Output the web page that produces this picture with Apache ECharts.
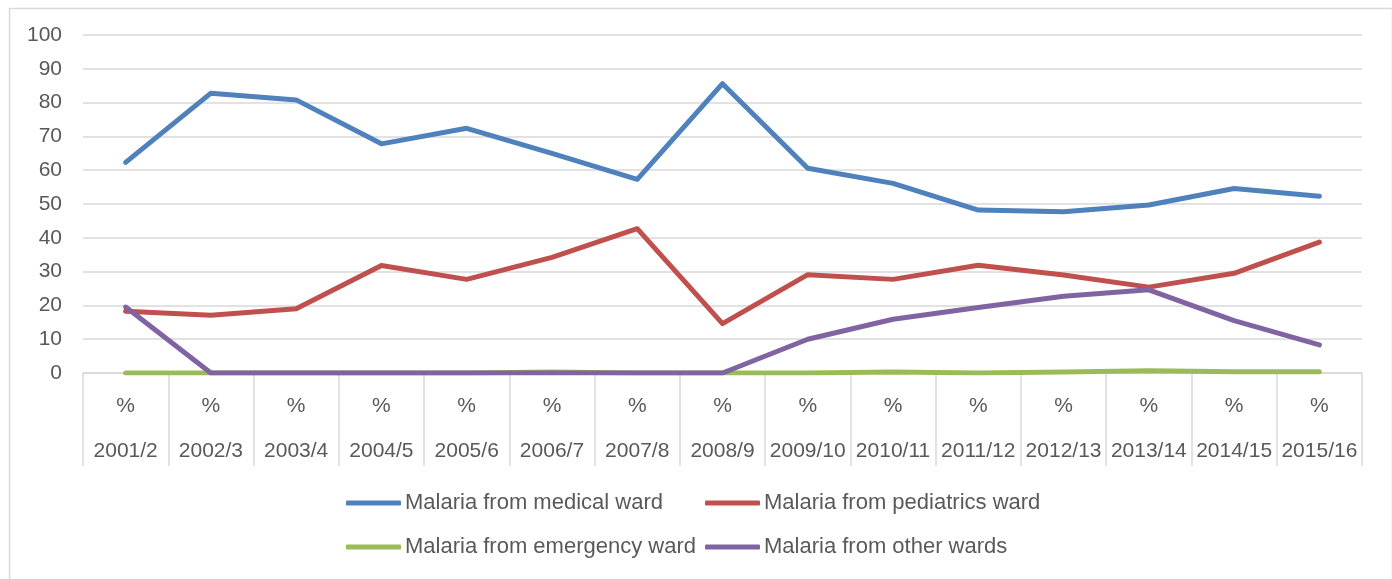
<!DOCTYPE html>
<html>
<head>
<meta charset="utf-8">
<script src="https://cdn.jsdelivr.net/npm/echarts@6/dist/echarts.min.js"></script>
<style>
html,body{margin:0;padding:0;background:#fff;}
#chart{width:1392px;height:579px;}
</style>
</head>
<body>
<div id="chart"></div>
<script>
const categories = ['2001/2','2002/3','2003/4','2004/5','2005/6','2006/7','2007/8','2008/9','2009/10','2010/11','2011/12','2012/13','2013/14','2014/15','2015/16'];
const medical    = [62.3, 82.8, 80.8, 67.8, 72.4, 65.0, 57.3, 85.6, 60.6, 56.1, 48.2, 47.7, 49.7, 54.6, 52.3];
const pediatrics = [18.3, 17.1, 19.0, 31.8, 27.7, 34.2, 42.7, 14.6, 29.1, 27.7, 31.9, 29.0, 25.4, 29.5, 38.7];
const emergency  = [0, 0, 0, 0, 0, 0.3, 0, 0, 0, 0.3, 0, 0.3, 0.7, 0.4, 0.4];
const other      = [19.5, 0, 0, 0, 0, 0, 0, 0, 10.0, 15.9, 19.4, 22.7, 24.6, 15.5, 8.3];
const seriesNames = ['Malaria from medical ward','Malaria from pediatrics ward','Malaria from emergency ward','Malaria from other wards'];
const colors = ['#4F81BD','#C0504D','#9BBB59','#8064A2'];
const yTicks = {min: 0, max: 100, interval: 10};

const font = 'Liberation Sans';
const textColor = '#595959';

const chart = echarts.init(document.getElementById('chart'), null, {renderer: 'canvas'});
const dataSets = [medical, pediatrics, emergency, other];
const legendPos = [[341, 487], [700, 487], [341, 531], [700, 531]];

const option = {
  animation: false,
  backgroundColor: '#fff',
  graphic: [{
    type: 'rect', left: 7, top: 6, silent: true,
    shape: {width: 1383, height: 620},
    style: {fill: 'none', stroke: '#d9d9d9', lineWidth: 1.5}
  }],
  grid: {left: 83, right: 30, top: 35, bottom: 206, containLabel: false},
  xAxis: {
    type: 'category',
    data: categories,
    boundaryGap: true,
    axisLine: {show: true, lineStyle: {color: '#d9d9d9', width: 1.5}},
    axisTick: {show: true, interval: 0, length: 93, lineStyle: {color: '#d9d9d9', width: 1.5}},
    axisLabel: {
      interval: 0, margin: 22,
      fontFamily: font, fontSize: 21, color: textColor, lineHeight: 22.5,
      formatter: v => '%\n\n' + v
    },
    splitLine: {show: false}
  },
  yAxis: {
    type: 'value',
    min: yTicks.min, max: yTicks.max, interval: yTicks.interval,
    axisLine: {show: false},
    axisTick: {show: false},
    axisLabel: {fontFamily: font, fontSize: 21, color: textColor, margin: 21},
    splitLine: {lineStyle: {color: '#d9d9d9', width: 1.5}}
  },
  legend: seriesNames.map((n, i) => ({
    data: [n],
    left: legendPos[i][0], top: legendPos[i][1],
    icon: 'roundRect', itemWidth: 55, itemHeight: 5, itemGap: 4,
    textStyle: {fontFamily: font, fontSize: 22, color: textColor, padding: [0,0,0,-1]},
    selectedMode: false
  })),
  series: seriesNames.map((n, i) => ({
    name: n,
    type: 'line',
    data: dataSets[i],
    showSymbol: false,
    symbol: 'none',
    color: colors[i],
    lineStyle: {width: 5, color: colors[i], cap: 'round', join: 'round'},
    emphasis: {disabled: true},
    z: 2 + i
  }))
};
chart.setOption(option);
</script>
</body>
</html>
